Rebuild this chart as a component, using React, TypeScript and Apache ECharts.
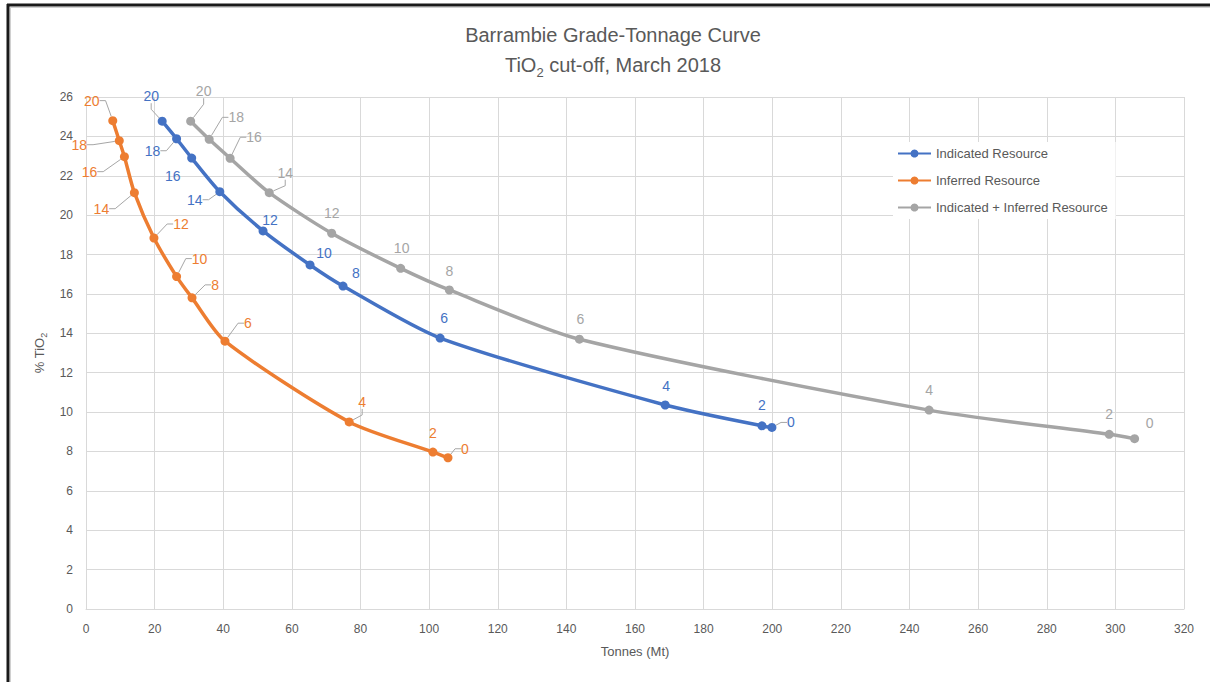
import React, { useEffect, useRef } from "react";
import * as echarts from "echarts";

const CUTOFFS = [20, 18, 16, 14, 12, 10, 8, 6, 4, 2, 0];
const INDICATED_T = [22.2, 26.4, 30.8, 39.0, 51.6, 65.3, 74.9, 103.2, 168.8, 197.0, 199.9];
const INDICATED_G = [24.77, 23.88, 22.9, 21.19, 19.2, 17.47, 16.4, 13.76, 10.36, 9.3, 9.22];
const INFERRED_T = [7.8, 9.7, 11.2, 14.1, 19.8, 26.4, 30.9, 40.5, 76.7, 101.1, 105.5];
const INFERRED_G = [24.8, 23.78, 22.97, 21.14, 18.84, 16.88, 15.8, 13.6, 9.5, 7.97, 7.68];
const TOTAL_T = [30.5, 35.9, 42.0, 53.4, 71.6, 91.7, 105.9, 143.8, 245.7, 298.2, 305.6];
const TOTAL_G = [24.77, 23.85, 22.89, 21.14, 19.08, 17.3, 16.2, 13.7, 10.1, 8.87, 8.65];
const SERIES_NAMES = ["Indicated Resource", "Inferred Resource", "Indicated + Inferred Resource"];
const COLORS = ["#4472c4", "#ed7d31", "#a5a5a5"];

// label offsets (dx, dy) from point centre, and whether a leader line is drawn
const LABEL_OFFSETS: number[][][] = [
  [[-11, -25, 1], [-24, 12, 1], [-19, 18, 0], [-25, 8, 1], [7, -11, 0], [14, -12, 0], [13, -13, 0], [4, -20, 0], [1, -19, 0], [0, -21, 0], [19, -5, 1]],
  [[-21, -20, 1], [-40, 4, 1], [-35, 15, 1], [-33, 16, 1], [27, -14, 1], [23, -18, 1], [23, -13, 1], [23, -18, 1], [13, -20, 1], [0, -19, 0], [17, -9, 1]],
  [[13, -30, 1], [27, -22, 1], [24, -21, 1], [16, -20, 1], [0, -20, 0], [1, -20, 0], [0, -19, 0], [1, -20, 0], [0, -20, 0], [0, -20, 0], [15, -16, 0]],
];

const FONT = "'Liberation Sans', Arial, sans-serif";
const TEXT = "#595959";

export default function App() {
  const ref = useRef<HTMLDivElement>(null);
  useEffect(() => {
    if (!ref.current) return;
    const chart = echarts.init(ref.current, null, { renderer: "svg" });
    const xs = [INDICATED_T, INFERRED_T, TOTAL_T];
    const ys = [INDICATED_G, INFERRED_G, TOTAL_G];
    const series = SERIES_NAMES.map((name, si) => ({
      name,
      type: "line",
      smooth: 0.25,
      symbol: "circle",
      symbolSize: 9,
      color: COLORS[si],
      lineStyle: { width: 3.5, color: COLORS[si] },
      itemStyle: { color: COLORS[si] },
      label: {
        show: true,
        position: "inside",
        color: COLORS[si],
        fontSize: 14,
        fontFamily: FONT,
        formatter: (p: any) => String(CUTOFFS[p.dataIndex]),
      },
      labelLine: { show: false, length2: 6, lineStyle: { color: "#a6a6a6", width: 1 } },
      labelLayout: (params: any) => {
        const o = LABEL_OFFSETS[params.seriesIndex][params.dataIndex];
        return { dx: o[0], dy: o[1] };
      },
      data: xs[si].map((x, i) => ({
        value: [x, ys[si][i]],
        labelLine: { show: LABEL_OFFSETS[si][i][2] === 1 },
      })),
    }));
    chart.setOption({
      animation: false,
      backgroundColor: "#ffffff",
      grid: { left: 86, right: 26, top: 97, bottom: 73 },
      legend: {
        orient: "vertical",
        left: 893,
        top: 142,
        itemGap: 14,
        itemWidth: 33,
        itemHeight: 10,
        padding: [5, 8, 5, 4],
        backgroundColor: "#ffffff",
        textStyle: { color: TEXT, fontSize: 13, fontFamily: FONT },
        data: SERIES_NAMES,
      },
      xAxis: {
        type: "value",
        min: 0,
        max: 320,
        interval: 20,
        name: "Tonnes (Mt)",
        nameLocation: "middle",
        nameGap: 36,
        nameTextStyle: { color: TEXT, fontSize: 13, fontFamily: FONT },
        axisLine: { show: true, lineStyle: { color: "#d9d9d9" } },
        axisTick: { show: false },
        axisLabel: { color: TEXT, fontSize: 12, fontFamily: FONT, margin: 14 },
        splitLine: { show: true, lineStyle: { color: "#d9d9d9" } },
      },
      yAxis: {
        type: "value",
        min: 0,
        max: 26,
        interval: 2,
        name: "% TiO{sub|2}",
        nameLocation: "middle",
        nameGap: 38,
        nameTextStyle: {
          color: TEXT,
          fontSize: 13,
          fontFamily: FONT,
          lineHeight: 18,
          rich: { sub: { fontSize: 9, verticalAlign: "bottom", color: TEXT, fontFamily: FONT } },
        },
        axisLine: { show: false },
        axisTick: { show: false },
        axisLabel: { color: TEXT, fontSize: 12, fontFamily: FONT, margin: 13 },
        splitLine: { show: true, lineStyle: { color: "#d9d9d9" } },
      },
      graphic: [
        {
          type: "text",
          x: 613,
          y: 35,
          style: {
            text: "Barrambie Grade-Tonnage Curve",
            fill: TEXT,
            fontSize: 20,
            fontFamily: FONT,
            align: "center",
            verticalAlign: "middle",
          },
        },
        {
          type: "text",
          x: 613,
          y: 65,
          style: {
            text: "TiO{sub|2} cut-off, March 2018",
            fill: TEXT,
            fontSize: 20,
            fontFamily: FONT,
            lineHeight: 27,
            align: "center",
            verticalAlign: "middle",
            rich: { sub: { fontSize: 13, verticalAlign: "bottom", fill: TEXT, fontFamily: FONT } },
          },
        },
        { type: "line", shape: { x1: 7, y1: 5, x2: 1210, y2: 5 }, style: { stroke: "#1a1a1a", lineWidth: 3 } },
        { type: "line", shape: { x1: 8, y1: 4, x2: 8, y2: 682 }, style: { stroke: "#1a1a1a", lineWidth: 3 } },
        { type: "line", shape: { x1: 10, y1: 7.5, x2: 1210, y2: 7.5 }, style: { stroke: "#d0d0d0", lineWidth: 1 } },
        { type: "line", shape: { x1: 10.5, y1: 7, x2: 10.5, y2: 682 }, style: { stroke: "#d0d0d0", lineWidth: 1 } },
      ],
      series,
    });
    return () => chart.dispose();
  }, []);
  return (
    <div
      ref={ref}
      style={{ position: "fixed", left: 0, top: 0, width: 1210, height: 682, background: "#fff" }}
    />
  );
}
